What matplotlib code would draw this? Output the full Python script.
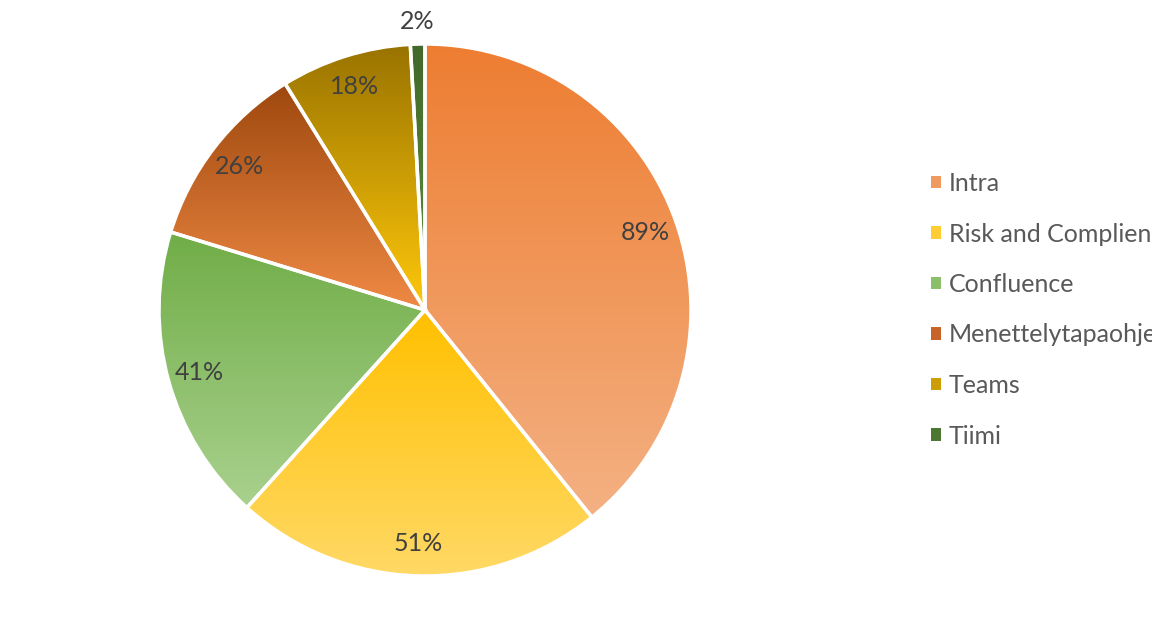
import numpy as np
import matplotlib.pyplot as plt
from matplotlib.colors import LinearSegmentedColormap
from matplotlib.patches import Patch

labels = ['Intra', 'Risk and Complience', 'Confluence', 'Menettelytapaohjeet', 'Teams', 'Tiimi']
values = [89, 51, 41, 26, 18, 2]
# gradient colours, top -> bottom of each slice
top_colors = ['#ED7D31', '#FFC000', '#70AD47', '#9E480E', '#997300', '#43682B']
bottom_colors = ['#F4B183', '#FFD966', '#A9D18E', '#F08A45', '#FFC80A', '#5E8F3C']

plt.rcParams['font.family'] = ['Lato', 'DejaVu Sans']

fig = plt.figure(figsize=(11.52, 6.18), dpi=100)
ax = fig.add_axes([0, 0, 1, 1])

cx, cy, r = 425, 308, 266
wedges, texts = ax.pie(values, startangle=90, counterclock=False, center=(cx, cy),
                       radius=r, frame=True,
                       wedgeprops={'facecolor': 'none', 'edgecolor': 'white', 'linewidth': 2.5})
ax.set_xlim(0, 1152)
ax.set_ylim(0, 618)
ax.set_aspect('equal')
ax.axis('off')

for w, c0, c1 in zip(wedges, top_colors, bottom_colors):
    t = np.radians(np.linspace(w.theta1, w.theta2, 200))
    ys = np.concatenate([cy + r * np.sin(t), [cy]])
    y0, y1 = ys.min(), ys.max()
    cmap = LinearSegmentedColormap.from_list('g', [c0, c1])
    grad = np.linspace(0, 1, 256).reshape(-1, 1)
    im = ax.imshow(grad, cmap=cmap, extent=[cx - r, cx + r, y0, y1], origin='upper',
                   aspect='auto', zorder=0.5)
    im.set_clip_path(w)
    w.set_zorder(1)

total = sum(values)
for w, v in zip(wedges, values):
    mid = np.radians((w.theta1 + w.theta2) / 2)
    dist = 0.88 if v / total > 0.03 else 1.085
    ax.text(cx + dist * r * np.cos(mid), cy + dist * r * np.sin(mid), f'{v}%',
            ha='center', va='center', fontsize=18, color='#404040', zorder=3)

# legend swatches use the middle of each gradient
mid_colors = ['#EF9A5E', '#FFCC33', '#8CBF6A', '#C8642A', '#CC9D05', '#4C7732']
handles = [Patch(facecolor=c, edgecolor='none') for c in mid_colors]
ax.legend(handles, labels, loc='upper left', bbox_to_anchor=(931 / 1152, 1 - 172 / 618),
          frameon=False, fontsize=18, labelcolor='#595959', handlelength=0.4,
          handleheight=0.4, handletextpad=0.32, labelspacing=1.1, borderpad=0,
          borderaxespad=0)

fig.savefig('out.png', dpi=100)
plt.close()
